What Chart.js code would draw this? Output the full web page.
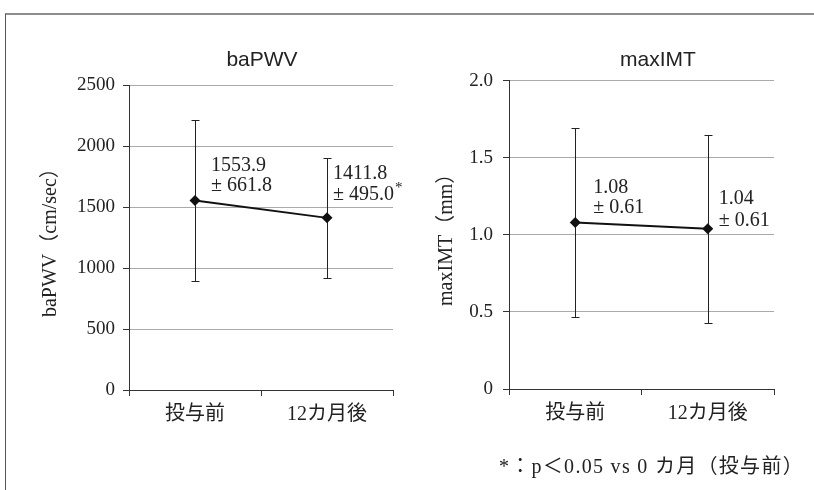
<!DOCTYPE html>
<html>
<head>
<meta charset="utf-8">
<script src="https://cdn.jsdelivr.net/npm/chart.js@4.4.1/dist/chart.umd.min.js"></script>
<style>
  body { margin: 0; width: 814px; height: 490px; overflow: hidden; background: #fff; position: relative; }
  #frame { position: absolute; left: 5px; top: 13px; width: 900px; height: 600px;
           border-top: 2px solid #8c8c8c; border-left: 1px solid #555; }
  canvas { position: absolute; top: 0; }
  #c1 { left: 0; }
  #c2 { left: 400px; }
  #note { position: absolute; right: 10px; top: 450px; color: #222; white-space: nowrap; letter-spacing: 1.3px;
          font: 20px "Liberation Serif", "Noto Sans CJK JP", serif; }
</style>
</head>
<body>
<div id="frame"></div>
<canvas id="c1" width="524" height="490"></canvas>
<canvas id="c2" width="516" height="490"></canvas>
<div id="note">*：p＜0.05 vs 0 カ月（投与前）</div>
<script>
const categories = ['投与前', '12カ月後'];

const pwvMean = [1553.9, 1411.8];
const pwvSd = [661.8, 495.0];
const pwvSig = [false, true];
const pwvTicks = [0, 500, 1000, 1500, 2000, 2500];

const imtMean = [1.08, 1.04];
const imtSd = [0.61, 0.61];
const imtSig = [false, false];
const imtTicks = [0, 0.5, 1.0, 1.5, 2.0];

const serif = '"Liberation Serif", "Noto Sans CJK JP", serif';
const ink = '#222';

function makeChart(cfg) {
  // error bars + mean ± sd labels, placed from the scales
  const marks = {
    id: 'marks' + cfg.id,
    beforeDatasetsDraw(chart) {
      const { ctx, scales: { x, y } } = chart;
      ctx.save();
      ctx.strokeStyle = ink;
      ctx.lineWidth = 1;
      cfg.mean.forEach((m, i) => {
        const px = Math.round(x.getPixelForValue(i)) + 0.5;
        const top = Math.round(y.getPixelForValue(m + cfg.sd[i])) + 0.5;
        const bot = Math.round(y.getPixelForValue(m - cfg.sd[i])) + 0.5;
        ctx.beginPath();
        ctx.moveTo(px, top); ctx.lineTo(px, bot);
        ctx.moveTo(px - 4, top); ctx.lineTo(px + 4, top);
        ctx.moveTo(px - 4, bot); ctx.lineTo(px + 4, bot);
        ctx.stroke();
      });
      ctx.restore();
    },
    afterDatasetsDraw(chart) {
      const { ctx, scales: { x, y } } = chart;
      ctx.save();
      ctx.fillStyle = ink;
      ctx.textBaseline = 'middle';
      ctx.textAlign = 'left';
      cfg.mean.forEach((m, i) => {
        const px = x.getPixelForValue(i);
        const py = y.getPixelForValue(m);
        const off = cfg.labelOffsets[i];
        const sdText = '± ' + cfg.sd[i].toFixed(cfg.decimals);
        ctx.font = '20px ' + serif;
        ctx.fillText(m.toFixed(cfg.decimals), px + off[0], py + off[1]);
        ctx.fillText(sdText, px + off[0], py + off[2]);
        if (cfg.sig[i]) {
          const w = ctx.measureText(sdText).width;
          ctx.font = '15px ' + serif;
          ctx.fillText('*', px + off[0] + w + 1, py + off[2] - 7);
        }
      });
      ctx.restore();
    }
  };

  return new Chart(document.getElementById(cfg.id), {
    type: 'line',
    data: {
      labels: categories,
      datasets: [{
        data: cfg.mean,
        borderColor: '#111',
        borderWidth: 2,
        pointStyle: 'rectRot',
        pointRadius: 5.5,
        pointBackgroundColor: '#111',
        pointBorderColor: '#111',
        pointBorderWidth: 0,
        tension: 0
      }]
    },
    options: {
      responsive: false,
      animation: false,
      devicePixelRatio: 1,
      layout: { padding: 0 },
      plugins: {
        legend: { display: false },
        tooltip: { enabled: false },
        title: {
          display: true,
          text: cfg.title,
          color: ink,
          font: { family: '"Liberation Sans", Arial, sans-serif', size: 21, weight: 'normal' },
          padding: { top: 48, bottom: cfg.titleBottom }
        }
      },
      scales: {
        x: {
          offset: true,
          grid: { offset: true, drawOnChartArea: false, drawTicks: true, tickLength: 6, tickColor: '#333' },
          border: { color: '#333', width: 1 },
          ticks: { color: ink, padding: 7, font: { family: serif, size: 20 } },
          afterFit(scale) { scale.height = cfg.xHeight; }
        },
        y: {
          min: cfg.ticks[0],
          max: cfg.ticks[cfg.ticks.length - 1],
          afterBuildTicks(scale) { scale.ticks = cfg.ticks.map(v => ({ value: v })); },
          grid: { color: '#aaa', lineWidth: 1, drawTicks: true, tickLength: 6, tickColor: '#333' },
          border: { color: '#333', width: 1 },
          ticks: {
            color: ink,
            padding: cfg.yLabelPad,
            font: { family: serif, size: 19 },
            callback: cfg.fmtTick
          },
          title: {
            display: true,
            text: cfg.yTitle,
            color: ink,
            font: { family: serif, size: 20 },
            padding: { top: cfg.yTitlePad, bottom: 0 }
          },
          afterFit(scale) { scale.width = cfg.yWidth; }
        },
        // empty right-hand box so the title centres over the whole canvas
        spacer: {
          type: 'linear',
          position: 'right',
          grid: { display: false },
          border: { display: false },
          ticks: { display: false },
          afterFit(scale) { scale.width = cfg.rightSpace; }
        }
      }
    },
    plugins: [marks]
  });
}

makeChart({
  id: 'c1',
  title: 'baPWV',
  yTitle: 'baPWV（cm/sec）',
  mean: pwvMean, sd: pwvSd, sig: pwvSig, ticks: pwvTicks, decimals: 1,
  fmtTick: v => String(v),
  yWidth: 129, yTitlePad: 39, yLabelPad: 8,
  titleBottom: 12, xHeight: 100, rightSpace: 131,
  labelOffsets: [[16, -35, -15], [6, -44, -23]]
});

makeChart({
  id: 'c2',
  title: 'maxIMT',
  yTitle: 'maxIMT（mm）',
  mean: imtMean, sd: imtSd, sig: imtSig, ticks: imtTicks, decimals: 2,
  fmtTick: v => (v === 0 ? '0' : v.toFixed(1)),
  yWidth: 109, yTitlePad: 35, yLabelPad: 10,
  titleBottom: 7.5, xHeight: 101, rightSpace: 142,
  labelOffsets: [[18, -35, -15], [11, -30, -8]]
});
</script>
</body>
</html>
